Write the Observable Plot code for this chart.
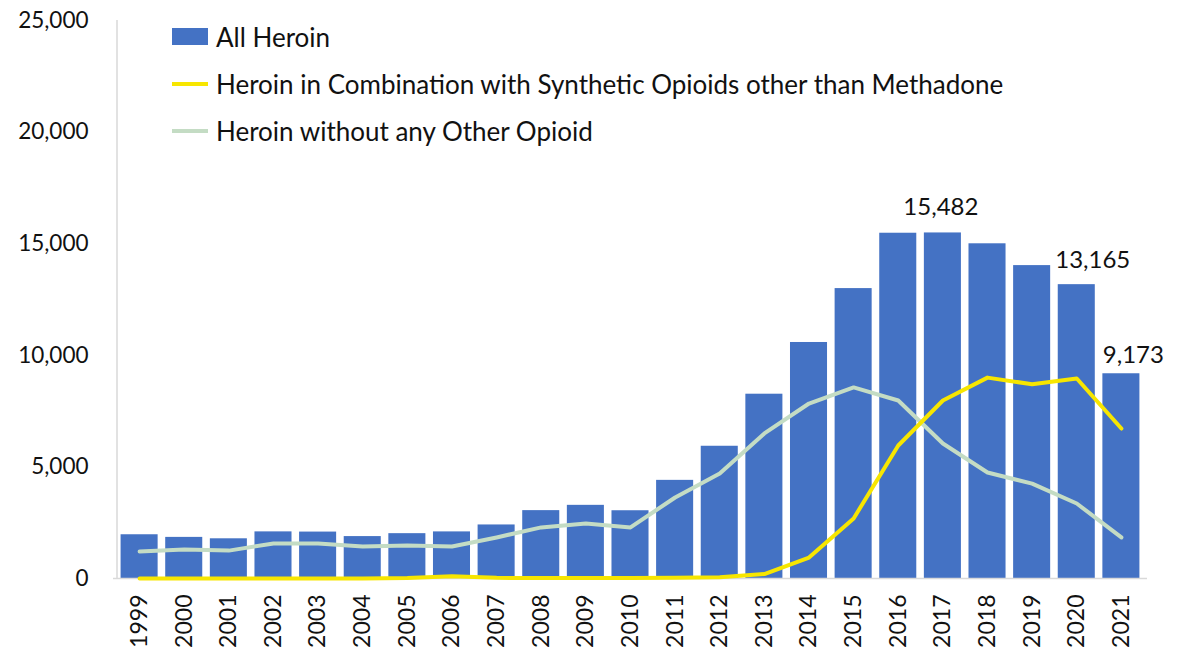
<!DOCTYPE html>
<html><head><meta charset="utf-8">
<script src="https://cdn.jsdelivr.net/npm/d3@7"></script>
<script src="https://cdn.jsdelivr.net/npm/@observablehq/plot@0.6"></script>
<style>
body{margin:0;background:#fff;font-family:Lato,"Open Sans",sans-serif;}
#wrap{position:relative;width:1180px;height:658px;}
#legend{position:absolute;left:172px;top:13px;font-size:26px;color:#111;}
#legend div{display:flex;align-items:center;height:47px;}
.sw{width:36px;margin-right:8px;}
</style></head><body>
<div id="wrap"><div id="chart"></div>
<div id="legend">
 <div><span class="sw" style="height:17px;background:#4472C4"></span>All Heroin</div>
 <div><span class="sw" style="height:4px;background:#F7E600"></span>Heroin in Combination with Synthetic Opioids other than Methadone</div>
 <div><span class="sw" style="height:4px;background:#C4DCC4"></span>Heroin without any Other Opioid</div>
</div></div>
<script>
const years = [1999,2000,2001,2002,2003,2004,2005,2006,2007,2008,2009,2010,2011,2012,2013,2014,2015,2016,2017,2018,2019,2020,2021];
const allHeroin = [1960,1842,1779,2089,2080,1878,2009,2088,2399,3041,3278,3036,4397,5925,8257,10574,12989,15469,15482,14996,14019,13165,9173];
const withSynthetic = [0,0,0,0,0,0,20,100,30,20,20,20,30,60,200,940,2690,5960,7975,9000,8700,8960,6720];
const withoutOther = [1210,1300,1250,1570,1570,1430,1480,1430,1840,2290,2460,2290,3630,4700,6500,7840,8560,7975,6050,4750,4250,3360,1840];
const yTicks = [0,5000,10000,15000,20000,25000];

const rows = years.map((y,i)=>({year:String(y), all:allHeroin[i], syn:withSynthetic[i], wo:withoutOther[i]}));
const fmt = d3.format(",");
const pick = y => rows.filter(r=>r.year===String(y));
const lbl = (y,dx,dy) => Plot.text(pick(y),{x:"year", y:"all", text:d=>fmt(d.all), dx, dy, fontSize:24, fill:"#111"});

const chart = Plot.plot({
  width:1180, height:658,
  marginLeft:113, marginRight:33, marginTop:20, marginBottom:80,
  style:{fontFamily:"Lato, 'Open Sans', sans-serif", fontSize:"23px", color:"#111"},
  x:{domain:years.map(String), padding:0.17, round:false, label:null},
  y:{domain:[0,25000], label:null},
  marks:[
    Plot.axisX({tickSize:0, tickRotate:-90, tickPadding:16, fontSize:23, label:null}),
    Plot.axisY({ticks:yTicks, tickFormat:fmt, tickSize:0, tickPadding:25, fontSize:22.5, label:null}),
    Plot.barY(rows,{x:"year", y:"all", fill:"#4472C4"}),
    Plot.ruleY([0],{stroke:"#d9d9d9", strokeWidth:1.5}),
    Plot.line(rows,{x:"year", y:"wo", stroke:"#C4DCC4", strokeWidth:4}),
    Plot.line(rows,{x:"year", y:"syn", stroke:"#F7E600", strokeWidth:4}),
    lbl(2017,-2,-26),
    lbl(2020,16,-24),
    lbl(2021,12,-18)
  ]
});
document.getElementById("chart").appendChild(chart);
const svg = d3.select(chart);
svg.append("line").attr("x1",117).attr("x2",117).attr("y1",20).attr("y2",578).attr("stroke","#d9d9d9").attr("stroke-width",1.5);
</script>
</body></html>
